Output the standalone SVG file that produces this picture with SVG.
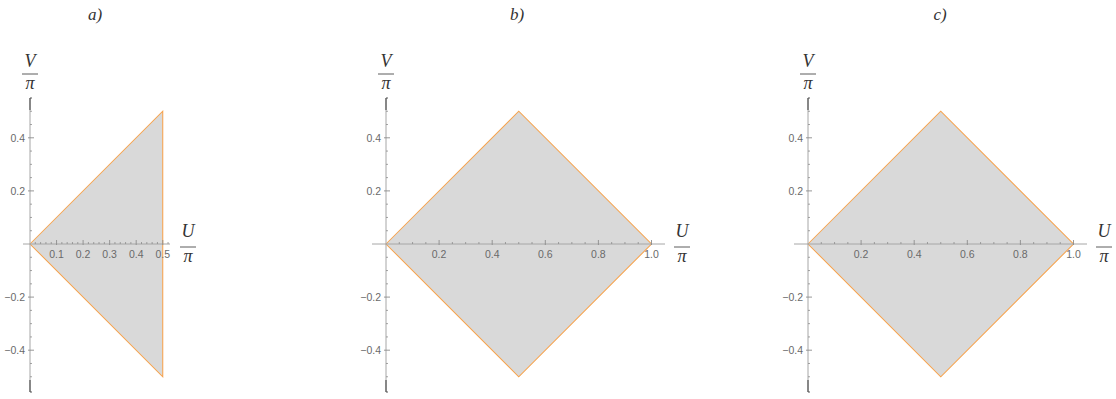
<svg xmlns="http://www.w3.org/2000/svg" xmlns:xlink="http://www.w3.org/1999/xlink" width="1116" height="399" viewBox="0 0 1116 399">
<style>
.region{fill:#d9d9d9;stroke:none}
.edge{fill:none;stroke:#f6a24c;stroke-width:1.05;stroke-linecap:round}
.axis{fill:none;stroke:#a6a6a6;stroke-width:1}
.tick{fill:none;stroke:#8c8c8c;stroke-width:0.8}
.major{fill:none;stroke:#8c8c8c;stroke-width:0.9}
.tl{font-family:"Liberation Sans",Arial,sans-serif;font-size:10.5px;fill:#6a6a6a}
.lab{font-family:"Liberation Serif","DejaVu Serif",serif;font-style:italic;font-size:18px;fill:#333;text-anchor:middle}
.ttl{font-family:"Liberation Serif","DejaVu Serif",serif;font-style:italic;font-size:17px;fill:#333;text-anchor:middle}
.bar{stroke:#333;stroke-width:0.8}
</style>
<defs>
<g id="yaxis">
<path class="axis" d="M0,-146 V148"/>
<path class="tick" d="M0,-13.28h2M0,-26.55h2M0,-39.83h2M0,-66.38h2M0,-79.65h2M0,-92.93h2M0,-119.48h2M0,-132.75h2M0,13.28h2M0,26.55h2M0,39.83h2M0,66.38h2M0,79.65h2M0,92.93h2M0,119.48h2M0,132.75h2"/>
<path class="major" d="M-2,-53.1h6M-2,-106.2h6M-2,53.1h6M-2,106.2h6"/>
<path stroke="#555" stroke-width="1.2" fill="none" d="M0,-146 v12 M0,-146 h2 M0,148 v-12 M0,148 h2"/>
<text class="tl" x="-5" y="-102.5" text-anchor="end">0.4</text>
<text class="tl" x="-5" y="-49.4" text-anchor="end">0.2</text>
<text class="tl" x="-5" y="56.8" text-anchor="end">−0.2</text>
<text class="tl" x="-5" y="109.9" text-anchor="end">−0.4</text>
<text class="lab" font-family="Liberation Serif" x="0" y="-177">V</text>
<line class="bar" x1="-8" y1="-170" x2="8" y2="-170"/>
<text class="lab" font-family="Liberation Serif" x="0" y="-155">π</text>
</g>
<g id="xaxisBC">
<path class="axis" d="M-14,0 H279"/>
<path class="tick" d="M13.28,0v-2M26.55,0v-2M39.83,0v-2M66.38,0v-2M79.65,0v-2M92.93,0v-2M119.48,0v-2M132.75,0v-2M146.03,0v-2M172.58,0v-2M185.85,0v-2M199.13,0v-2M225.68,0v-2M238.95,0v-2M252.23,0v-2"/>
<path class="major" d="M53.1,1v-5M106.2,1v-5M159.3,1v-5M212.4,1v-5M265.5,1v-5"/>
<text class="tl" x="53.1" y="14" text-anchor="middle">0.2</text>
<text class="tl" x="106.2" y="14" text-anchor="middle">0.4</text>
<text class="tl" x="159.3" y="14" text-anchor="middle">0.6</text>
<text class="tl" x="212.4" y="14" text-anchor="middle">0.8</text>
<text class="tl" x="265.5" y="14" text-anchor="middle">1.0</text>
<text class="lab" font-family="Liberation Serif" x="296" y="-7">U</text>
<line class="bar" x1="288" y1="3" x2="304" y2="3"/>
<text class="lab" font-family="Liberation Serif" x="296" y="18">π</text>
</g>
<g id="diamond">
<polygon class="region" points="0,0 132.75,-132.75 265.5,0 132.75,132.75"/>
<path class="edge" d="M0,0 L132.75,-132.75 L265.5,0 L132.75,132.75 Z"/>
</g>
</defs>

<g id="panel-a" transform="translate(30,244)">
<polygon class="region" points="0,0 132.75,-132.75 132.75,132.75"/>
<path class="edge" d="M0,0 L132.75,-132.75 V132.75 Z"/>
<path class="axis" d="M-7,0 H140"/>
<path class="tick" d="M5.31,0v-2M10.62,0v-2M15.93,0v-2M21.24,0v-2M31.86,0v-2M37.17,0v-2M42.48,0v-2M47.79,0v-2M58.41,0v-2M63.72,0v-2M69.03,0v-2M74.34,0v-2M84.96,0v-2M90.27,0v-2M95.58,0v-2M100.89,0v-2M111.51,0v-2M116.82,0v-2M122.13,0v-2M127.44,0v-2M138.06,0v-2"/>
<path class="major" d="M26.55,1v-5M53.1,1v-5M79.65,1v-5M106.2,1v-5M132.75,1v-5"/>
<text class="tl" x="26.55" y="14" text-anchor="middle">0.1</text>
<text class="tl" x="53.1" y="14" text-anchor="middle">0.2</text>
<text class="tl" x="79.65" y="14" text-anchor="middle">0.3</text>
<text class="tl" x="106.2" y="14" text-anchor="middle">0.4</text>
<text class="tl" x="132.75" y="14" text-anchor="middle">0.5</text>
<text class="lab" font-family="Liberation Serif" x="158" y="-7">U</text>
<line class="bar" x1="150" y1="3" x2="166" y2="3"/>
<text class="lab" font-family="Liberation Serif" x="158" y="18">π</text>
<use xlink:href="#yaxis" href="#yaxis"/>
<text class="ttl" font-family="Liberation Serif" x="65" y="-224">a)</text>
</g>

<g id="panel-b" transform="translate(386,244)">
<use xlink:href="#diamond" href="#diamond"/>
<use xlink:href="#xaxisBC" href="#xaxisBC"/>
<use xlink:href="#yaxis" href="#yaxis"/>
<text class="ttl" font-family="Liberation Serif" x="131" y="-224">b)</text>
</g>

<g id="panel-c" transform="translate(808,244)">
<use xlink:href="#diamond" href="#diamond"/>
<use xlink:href="#xaxisBC" href="#xaxisBC"/>
<use xlink:href="#yaxis" href="#yaxis"/>
<text class="ttl" font-family="Liberation Serif" x="132" y="-224">c)</text>
</g>
</svg>
